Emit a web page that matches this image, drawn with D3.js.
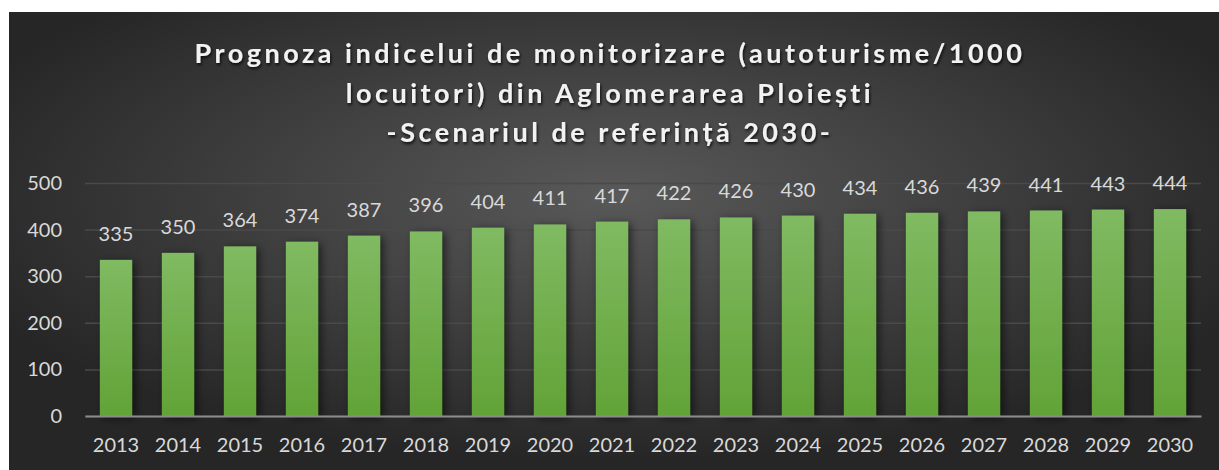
<!DOCTYPE html>
<html>
<head>
<meta charset="utf-8">
<script src="https://cdn.jsdelivr.net/npm/d3@7"></script>
<style>
  body { margin: 0; background: #fff; }
  svg { display: block; }
</style>
</head>
<body>
<div id="chart"></div>
<script>
// Data
const years = ["2013", "2014", "2015", "2016", "2017", "2018", "2019", "2020", "2021",
               "2022", "2023", "2024", "2025", "2026", "2027", "2028", "2029", "2030"];
const values = [335, 350, 364, 374, 387, 396, 404, 411, 417, 422, 426, 430, 434, 436, 439, 441, 443, 444];
const yTicks = [0, 100, 200, 300, 400, 500];
const titleLines = [
    "Prognoza indicelui de monitorizare (autoturisme/1000",
    "locuitori) din Aglomerarea Ploiești",
    "-Scenariul de referință 2030-"
];

const W = 1219, H = 470;
const margin = { top: 183, right: 18, bottom: 54, left: 85 };
const width = W - margin.left - margin.right,
      height = H - margin.top - margin.bottom;

const svg = d3.select("#chart")
    .append("svg")
    .attr("width", W)
    .attr("height", H);

const defs = svg.append("defs");

// Background glow
const bg = defs.append("radialGradient")
    .attr("id", "bgGrad")
    .attr("cx", 0.5).attr("cy", 0.4).attr("r", 0.58);
bg.append("stop").attr("offset", 0).attr("stop-color", "#595959");
bg.append("stop").attr("offset", 1).attr("stop-color", "#262626");

// Bar fill
const barGrad = defs.append("linearGradient")
    .attr("id", "barGrad")
    .attr("x1", 0).attr("y1", 0).attr("x2", 0).attr("y2", 1);
barGrad.append("stop").attr("offset", 0).attr("stop-color", "#80ba62");
barGrad.append("stop").attr("offset", 1).attr("stop-color", "#62a337");

const barShadow = defs.append("filter")
    .attr("id", "barShadow")
    .attr("x", -0.4).attr("y", -0.1).attr("width", 1.8).attr("height", 1.3);
barShadow.append("feDropShadow")
    .attr("dx", 3).attr("dy", 2).attr("stdDeviation", 4)
    .attr("flood-color", "#000").attr("flood-opacity", 0.55);

const textShadow = defs.append("filter")
    .attr("id", "textShadow")
    .attr("x", -0.1).attr("y", -0.3).attr("width", 1.2).attr("height", 1.6);
textShadow.append("feDropShadow")
    .attr("dx", 1).attr("dy", 2).attr("stdDeviation", 1.5)
    .attr("flood-color", "#000").attr("flood-opacity", 0.8);

svg.append("rect")
    .attr("x", 9).attr("y", 12)
    .attr("width", W - 9).attr("height", H - 12)
    .attr("fill", "url(#bgGrad)");

// Title
svg.append("text")
    .attr("x", 610)
    .attr("text-anchor", "middle")
    .attr("font-family", "Lato, 'Open Sans', sans-serif")
    .attr("font-weight", "bold")
    .attr("font-size", 27)
    .attr("letter-spacing", 3.5)
    .attr("fill", "#f2f2f2")
    .attr("filter", "url(#textShadow)")
    .selectAll("tspan")
    .data(titleLines)
    .join("tspan")
    .attr("x", 610)
    .attr("y", (d, i) => 63 + i * 39.5)
    .text(d => d);

const g = svg.append("g")
    .attr("transform", `translate(${margin.left},${margin.top})`);

const xScale = d3.scaleBand()
    .domain(years)
    .range([0, width])
    .paddingInner(0.48)
    .paddingOuter(0.24);

const yScale = d3.scaleLinear()
    .domain([0, 500])
    .range([height, 0]);

// Gridlines
g.append("g")
    .call(d3.axisLeft(yScale).tickValues(yTicks).tickSize(-width).tickFormat(""))
    .call(s => s.select(".domain").remove())
    .call(s => s.selectAll("line").attr("stroke", "#4a4a4a").attr("stroke-width", 1.5));

// Y axis labels
g.append("g")
    .call(d3.axisLeft(yScale).tickValues(yTicks).tickSize(0).tickPadding(23))
    .call(s => s.select(".domain").remove())
    .call(s => s.selectAll("text")
        .attr("font-family", "Lato, sans-serif")
        .attr("font-size", 20)
        .attr("fill", "#d9d9d9"));

// Bars
g.selectAll(".bar")
    .data(values)
    .join("rect")
    .attr("class", "bar")
    .attr("x", (d, i) => xScale(years[i]))
    .attr("y", d => yScale(d))
    .attr("width", xScale.bandwidth())
    .attr("height", d => height - yScale(d))
    .attr("fill", "url(#barGrad)")
    .attr("filter", "url(#barShadow)");

// Value labels
g.selectAll(".label")
    .data(values)
    .join("text")
    .attr("class", "label")
    .attr("x", (d, i) => xScale(years[i]) + xScale.bandwidth() / 2)
    .attr("y", d => yScale(d) - 19)
    .attr("text-anchor", "middle")
    .attr("font-family", "Lato, sans-serif")
    .attr("font-size", 20)
    .attr("fill", "#d9d9d9")
    .text(d => d);

// X axis
g.append("g")
    .attr("transform", `translate(0,${height})`)
    .call(d3.axisBottom(xScale).tickSize(0).tickPadding(22))
    .call(s => s.select(".domain").attr("stroke", "#8c8c8c").attr("stroke-width", 2))
    .call(s => s.selectAll("text")
        .attr("font-family", "Lato, sans-serif")
        .attr("font-size", 20)
        .attr("fill", "#d9d9d9"));
</script>
</body>
</html>
